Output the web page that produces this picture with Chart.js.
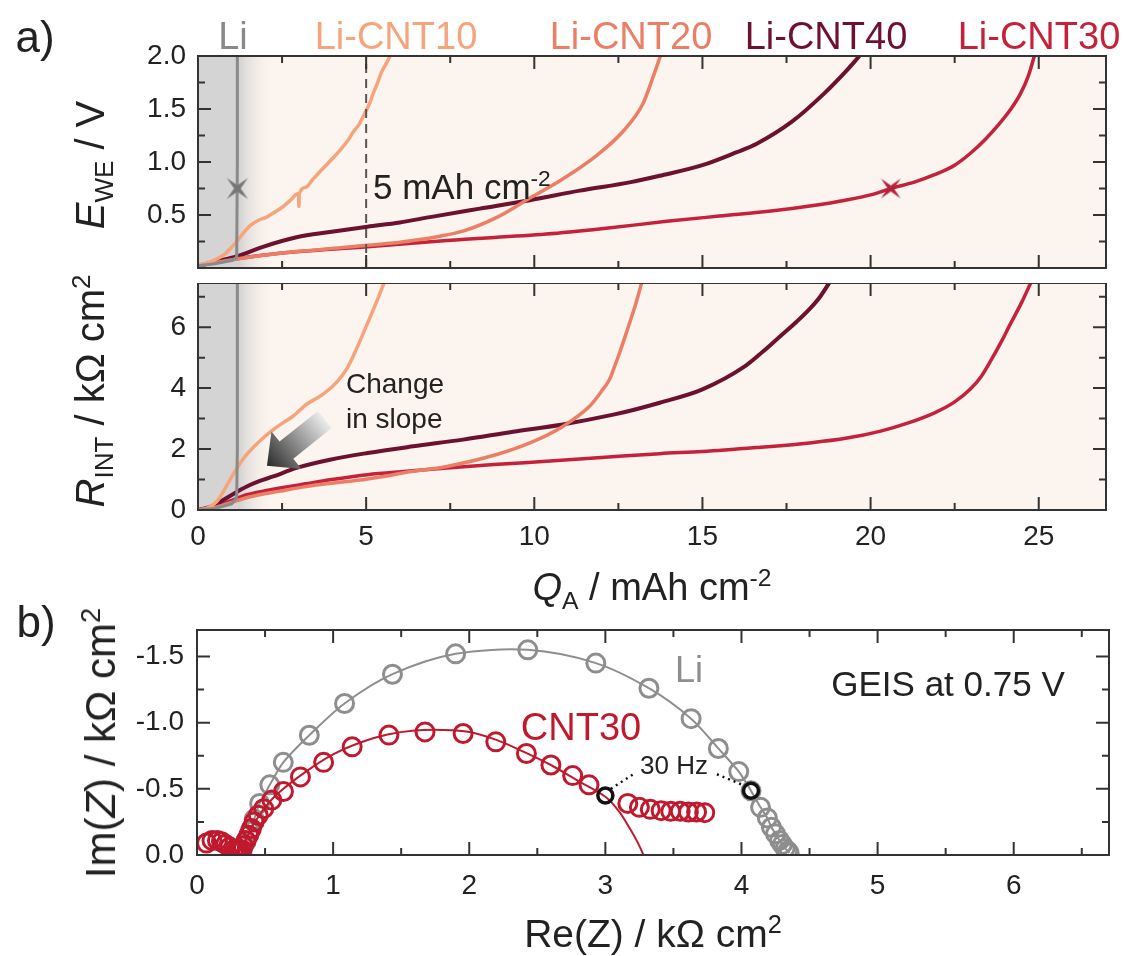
<!DOCTYPE html>
<html>
<head>
<meta charset="utf-8">
<script src="https://cdn.jsdelivr.net/npm/chart.js@4.4.1/dist/chart.umd.min.js"></script>
<style>
body { margin: 0; background: #fff; }
#page { position: relative; width: 1124px; height: 956px; overflow: hidden; font-family: 'Liberation Sans', Arial, sans-serif; color: #222; }
canvas { position: absolute; left: 0; }
.lab { position: absolute; white-space: nowrap; line-height: 1; transform: translate(-50%, -50%); }
.l { transform: translate(0, -50%); }
.rot { transform: translate(-50%, -50%) rotate(-90deg); }
sub, sup { font-size: 65%; line-height: 0; }
</style>
</head>
<body>
<div id="page">
  <canvas id="cE" width="1124" height="283" style="top:0"></canvas>
  <canvas id="cR" width="1124" height="300" style="top:283px"></canvas>
  <canvas id="cN" width="1124" height="373" style="top:583px"></canvas>

  <div class="lab" style="left:35px;top:37px;font-size:44px">a)</div>
  <div class="lab" style="left:233px;top:36px;font-size:38px;color:#8a8a8a">Li</div>
  <div class="lab" style="left:396px;top:36px;font-size:38px;color:#f6a47c">Li-CNT10</div>
  <div class="lab" style="left:631px;top:36px;font-size:38px;color:#ea7f66">Li-CNT20</div>
  <div class="lab" style="left:826px;top:36px;font-size:38px;color:#6c1130">Li-CNT40</div>
  <div class="lab" style="left:1039px;top:36px;font-size:38px;color:#c3223a">Li-CNT30</div>
  <div class="lab l" style="left:373px;top:186px;font-size:35px">5 mAh cm<sup>-2</sup></div>
  <div style="position:absolute;left:346px;top:366px;font-size:28px;line-height:35px;color:#222">Change<br>in slope</div>
  <div class="lab rot" style="left:90px;top:165px;font-size:40px"><i>E</i><sub>WE</sub> / V</div>
  <div class="lab rot" style="left:90px;top:391px;font-size:40px"><i>R</i><sub>INT</sub> / kΩ cm<sup>2</sup></div>
  <div class="lab" style="left:652px;top:587px;font-size:38px"><i>Q</i><sub>A</sub> / mAh cm<sup>-2</sup></div>

  <div class="lab" style="left:36px;top:622px;font-size:44px">b)</div>
  <div class="lab rot" style="left:101px;top:743px;font-size:42px">Im(<i>Z</i>) / kΩ cm<sup>2</sup></div>
  <div class="lab" style="left:653px;top:933px;font-size:39px">Re(Z) / kΩ cm<sup>2</sup></div>
  <div class="lab" style="left:689px;top:670px;font-size:36px;color:#8e8e8e">Li</div>
  <div class="lab" style="left:581px;top:727px;font-size:38px;color:#c0192e">CNT30</div>
  <div class="lab" style="left:948px;top:683px;font-size:35px">GEIS at 0.75 V</div>
  <div class="lab" style="left:674px;top:765px;font-size:26px">30 Hz</div>
</div>

<script>
// ---- a) potential vs areal capacity
const liQ = [0, 0.5, 1.0, 1.15, 1.17, 1.17];
const liE = [0.02, 0.04, 0.07, 0.1, 1.0, 2.0];
const cnt10Q = [0, 0.3, 0.55, 0.8, 0.95, 1.1, 1.25, 1.4, 1.55, 1.8, 2.04, 2.3, 2.53, 2.75, 2.97, 2.99, 3.0, 3.01, 3.2, 3.4, 3.63, 3.9, 4.22, 4.45, 4.61, 4.8, 4.96, 5.1, 5.2, 5.33, 5.46, 5.6, 5.71];
const cnt10E = [0.03, 0.05, 0.085, 0.13, 0.18, 0.23, 0.29, 0.35, 0.40, 0.45, 0.48, 0.53, 0.58, 0.64, 0.70, 0.70, 0.58, 0.70, 0.76, 0.83, 0.91, 1.0, 1.11, 1.2, 1.28, 1.36, 1.46, 1.55, 1.64, 1.74, 1.85, 1.93, 2.0];
const cnt20Q = [0, 0.5, 1.15, 2.44, 3.5, 5.04, 5.8, 6.4, 7.2, 7.9, 8.9, 9.87, 10.8, 11.85, 12.64, 13.23, 13.53, 13.75];
const cnt20E = [0.02, 0.05, 0.085, 0.14, 0.17, 0.215, 0.235, 0.26, 0.3, 0.35, 0.48, 0.66, 0.83, 1.06, 1.29, 1.55, 1.8, 2.0];
const cnt40Q = [0, 0.5, 1.15, 1.93, 2.93, 3.92, 5.04, 6.0, 6.9, 8.38, 9.87, 11.35, 12.87, 13.73, 15.0, 16.0, 16.6, 17.66, 18.6, 19.25, 19.67];
const cnt40E = [0.02, 0.06, 0.11, 0.20, 0.29, 0.34, 0.39, 0.43, 0.48, 0.56, 0.64, 0.73, 0.81, 0.87, 0.97, 1.09, 1.17, 1.38, 1.64, 1.85, 2.0];
const cnt30Q = [0, 0.5, 1.15, 2.44, 5.04, 7.4, 10.36, 12.0, 13.94, 15.5, 17.1, 18.3, 19.25, 20.0, 20.6, 21.3, 21.9, 22.5, 22.96, 23.4, 23.8, 24.15, 24.45, 24.7, 24.87];
const cnt30E = [0.02, 0.05, 0.088, 0.14, 0.20, 0.26, 0.32, 0.37, 0.44, 0.49, 0.54, 0.59, 0.64, 0.69, 0.75, 0.81, 0.88, 0.97, 1.08, 1.21, 1.35, 1.49, 1.64, 1.82, 2.0];
const starQ = [1.17, 20.6];
const starE = [0.75, 0.75];
const markQ = [5, 5];
const markE = [0, 2];

// ---- a) interphase resistance
const liR = [0, 0.05, 0.2, 0.4, 2.0, 7.45];
const cnt10R_Q = [0, 0.3, 0.55, 0.75, 0.95, 1.19, 1.4, 1.64, 1.95, 2.24, 2.55, 2.83, 3.23, 3.5, 3.72, 4.12, 4.42, 4.71, 5.01, 5.31, 5.53];
const cnt10R = [0, 0.08, 0.27, 0.6, 0.99, 1.43, 1.76, 2.05, 2.38, 2.64, 2.88, 3.08, 3.47, 3.65, 3.8, 4.19, 4.62, 5.28, 6.05, 6.83, 7.45];
const cnt20R_Q = [0, 0.5, 1.0, 1.5, 2.44, 3.5, 5.04, 6.4, 7.4, 8.88, 9.87, 10.86, 11.65, 12.0, 12.24, 12.4, 12.54, 12.84, 13.0, 13.19];
const cnt20R = [0, 0.08, 0.25, 0.42, 0.62, 0.82, 1.02, 1.27, 1.43, 1.82, 2.2, 2.75, 3.41, 3.9, 4.29, 4.75, 5.17, 6.16, 6.7, 7.45];
const cnt40R_Q = [0, 0.4, 0.75, 1.1, 1.45, 1.8, 2.24, 2.93, 3.92, 5.04, 6.4, 7.88, 9.37, 10.8, 12.35, 13.0, 13.73, 15.0, 16.28, 16.8, 17.33, 17.8, 18.19, 18.5, 18.77];
const cnt40R = [0, 0.12, 0.33, 0.56, 0.77, 0.94, 1.1, 1.38, 1.65, 1.87, 2.09, 2.31, 2.57, 2.8, 3.13, 3.3, 3.52, 3.96, 4.73, 5.2, 5.72, 6.18, 6.6, 7.0, 7.45];
const cnt30R_Q = [0, 0.4, 0.75, 1.1, 1.45, 2.0, 2.44, 3.2, 3.92, 5.04, 6.2, 7.4, 8.8, 10.36, 12.0, 13.73, 15.0, 16.6, 18.19, 19.3, 20.3, 21.1, 21.9, 22.5, 22.96, 23.3, 23.6, 23.9, 24.13, 24.5, 24.76];
const cnt30R = [0, 0.08, 0.2, 0.36, 0.5, 0.63, 0.72, 0.86, 0.99, 1.16, 1.27, 1.38, 1.49, 1.6, 1.72, 1.85, 1.92, 2.05, 2.2, 2.36, 2.59, 2.85, 3.19, 3.55, 3.96, 4.4, 4.95, 5.55, 6.05, 6.83, 7.45];
const arrowQ = [3.77, 2.05];   // tail, tip
const arrowR = [2.97, 1.45];

// ---- b) Nyquist plot
const liRe = [0.33, 0.36, 0.39, 0.42, 0.46, 0.535, 0.634, 0.825, 1.084, 1.436, 1.9, 2.43, 2.93, 3.32, 3.63, 3.83, 3.98, 4.07, 4.14, 4.19, 4.22, 4.25, 4.28, 4.3, 4.32, 4.34, 4.35];
const liIm = [-0.03, -0.1, -0.18, -0.27, -0.39, -0.53, -0.70, -0.905, -1.145, -1.366, -1.52, -1.55, -1.45, -1.26, -1.03, -0.805, -0.63, -0.485, -0.36, -0.28, -0.21, -0.16, -0.11, -0.08, -0.05, -0.03, -0.015];
const cntRe = [0.07, 0.11, 0.15, 0.18, 0.21, 0.24, 0.27, 0.29, 0.31, 0.33, 0.34, 0.36, 0.38, 0.40, 0.42, 0.45, 0.49, 0.55, 0.635, 0.76, 0.93, 1.14, 1.41, 1.675, 1.955, 2.195, 2.42, 2.6, 2.76, 2.88, 3.165, 3.25, 3.33, 3.41, 3.48, 3.55, 3.61, 3.67, 3.73];
const cntIm = [-0.09, -0.11, -0.11, -0.10, -0.08, -0.06, -0.04, -0.03, -0.03, -0.04, -0.07, -0.11, -0.15, -0.2, -0.25, -0.3, -0.35, -0.415, -0.48, -0.59, -0.70, -0.817, -0.906, -0.93, -0.918, -0.855, -0.767, -0.68, -0.60, -0.53, -0.39, -0.36, -0.345, -0.335, -0.33, -0.33, -0.325, -0.325, -0.32];
const fitRe = [0.3, 0.33, 0.37, 0.42, 0.5, 0.6, 0.8, 1.0, 1.2, 1.4, 1.6, 1.8, 2.0, 2.2, 2.4, 2.6, 2.8, 3.0, 3.1, 3.18, 3.24, 3.28];
const fitIm = [0, -0.06, -0.14, -0.24, -0.36, -0.47, -0.63, -0.76, -0.85, -0.91, -0.94, -0.945, -0.93, -0.87, -0.78, -0.68, -0.56, -0.44, -0.33, -0.2, -0.09, 0];
const hzRe = [3.0, 4.07];
const hzIm = [-0.45, -0.485];
const dotL_Re = [3.04, 3.22], dotL_Im = [-0.5, -0.62];
const dotR_Re = [3.82, 4.03], dotR_Im = [-0.61, -0.52];

const colLi = '#8a8a8a', col10 = '#f6a47c', col20 = '#ea7f66', col40 = '#6c1130', col30 = '#c3223a';
const colRed = '#c0192e', colGray = '#8e8e8e';

Chart.defaults.font.family = "'Liberation Sans', Arial, sans-serif";
Chart.defaults.font.size = 28;
Chart.defaults.color = '#222';

function pts(xs, ys) {
    return xs.map((x, i) => ({x: x, y: ys[i]}));
}

function curve(data, color, w, smooth) {
    return {
        data: data, borderColor: color, borderWidth: w, showLine: true,
        pointRadius: 0, fill: false,
        cubicInterpolationMode: smooth ? 'monotone' : 'default', tension: 0
    };
}

function starImg(color, size) {
    const c = document.createElement('canvas');
    c.width = c.height = size;
    const g = c.getContext('2d');
    g.translate(size / 2, size / 2);
    g.rotate(Math.PI / 4);
    g.beginPath();
    for (let i = 0; i < 8; i++) {
        const r = i % 2 === 0 ? size / 2 : size * 0.11;
        const a = i * Math.PI / 4 - Math.PI / 2;
        g.lineTo(r * Math.cos(a), r * Math.sin(a));
    }
    g.closePath();
    g.fillStyle = color;
    g.fill();
    return c;
}

function fixW(w) {
    return s => { s.width = w; s.paddingTop = 0; s.paddingBottom = 0; s.paddingLeft = 0; s.paddingRight = 0; };
}
function fixH(h) {
    return s => { s.height = h; s.paddingTop = 0; s.paddingBottom = 0; s.paddingLeft = 0; s.paddingRight = 0; };
}

// frame and inward ticks on all sides
const frame = {
    id: 'frame',
    afterDraw(chart, args, o) {
        const {ctx, chartArea: a, scales} = chart;
        ctx.save();
        ctx.strokeStyle = '#333';
        ctx.lineWidth = 2;
        const walk = (sc, step, major, fn) => {
            const lo = Math.min(sc.min, sc.max), hi = Math.max(sc.min, sc.max);
            for (let k = Math.ceil(lo / step - 1e-9); k * step <= hi + 1e-9; k++) {
                const v = k * step;
                const isMaj = Math.abs(v / major - Math.round(v / major)) < 1e-6;
                fn(sc.getPixelForValue(v), isMaj ? 13 : 7);
            }
        };
        ctx.beginPath();
        walk(scales.x, o.xMinor, o.xMajor, (p, L) => {
            ctx.moveTo(p, a.bottom); ctx.lineTo(p, a.bottom - L);
            ctx.moveTo(p, a.top); ctx.lineTo(p, a.top + L);
        });
        walk(scales.y, o.yMinor, o.yMajor, (p, L) => {
            ctx.moveTo(a.left, p); ctx.lineTo(a.left + L, p);
            ctx.moveTo(a.right, p); ctx.lineTo(a.right - L, p);
        });
        ctx.stroke();
        ctx.strokeRect(a.left, a.top, a.width, a.height);
        ctx.restore();
    }
};
Chart.register(frame);

// peach background with the grey Li region
const shade = {
    id: 'shade',
    beforeDatasetsDraw(chart) {
        const {ctx, chartArea: a, scales: {x}} = chart;
        const xl = x.getPixelForValue(liQ[liQ.length - 1]);
        const xf = x.getPixelForValue(2.3);
        ctx.save();
        ctx.fillStyle = '#fcf4ee';
        ctx.fillRect(a.left, a.top, a.width, a.height);
        ctx.fillStyle = '#d4d4d4';
        ctx.fillRect(a.left, a.top, xl - a.left, a.height);
        const g = ctx.createLinearGradient(xl, 0, xf, 0);
        g.addColorStop(0, 'rgba(208,208,208,1)');
        g.addColorStop(1, 'rgba(252,244,238,0)');
        ctx.fillStyle = g;
        ctx.fillRect(xl, a.top, xf - xl, a.height);
        ctx.restore();
    }
};

// big shaded arrow "change in slope"
const arrow = {
    id: 'arrow',
    afterDatasetsDraw(chart) {
        const {ctx, scales: {x, y}} = chart;
        const tx = x.getPixelForValue(arrowQ[0]), ty = y.getPixelForValue(arrowR[0]);
        const hx = x.getPixelForValue(arrowQ[1]), hy = y.getPixelForValue(arrowR[1]);
        const len = Math.hypot(hx - tx, hy - ty);
        const ux = (hx - tx) / len, uy = (hy - ty) / len, nx = -uy, ny = ux;
        const head = 25, hw = 24, sw = 11;
        const bx = hx - ux * head, by = hy - uy * head;
        ctx.save();
        const g = ctx.createLinearGradient(tx, ty, hx, hy);
        g.addColorStop(0, '#ececec');
        g.addColorStop(1, '#2a2a2a');
        ctx.fillStyle = g;
        ctx.beginPath();
        ctx.moveTo(tx + nx * sw, ty + ny * sw);
        ctx.lineTo(bx + nx * sw, by + ny * sw);
        ctx.lineTo(bx + nx * hw, by + ny * hw);
        ctx.lineTo(hx, hy);
        ctx.lineTo(bx - nx * hw, by - ny * hw);
        ctx.lineTo(bx - nx * sw, by - ny * sw);
        ctx.lineTo(tx - nx * sw, ty - ny * sw);
        ctx.closePath();
        ctx.fill();
        ctx.restore();
    }
};

function opts(pad, yW, xH, xs, ys, fr) {
    return {
        responsive: false, animation: false, devicePixelRatio: 1,
        layout: {padding: pad},
        plugins: {legend: {display: false}, tooltip: {enabled: false}, frame: fr},
        scales: {
            x: Object.assign({type: 'linear', grid: {display: false, drawTicks: false}, border: {display: false}, afterFit: fixH(xH)}, xs),
            y: Object.assign({type: 'linear', grid: {display: false, drawTicks: false}, border: {display: false}, afterFit: fixW(yW)}, ys)
        }
    };
}

// top panel: E_WE
new Chart(document.getElementById('cE'), {
    type: 'scatter',
    data: {datasets: [
        {data: pts(starQ, starE), pointStyle: [starImg('#767676', 30), starImg('#b5233a', 28)], pointRadius: 14, showLine: false},
        curve(pts(liQ, liE), colLi, 3, false),
        Object.assign(curve(pts(markQ, markE), '#555', 2, false), {borderDash: [9, 6]}),
        curve(pts(cnt10Q, cnt10E), col10, 3.5, true),
        curve(pts(cnt20Q, cnt20E), col20, 3.5, true),
        curve(pts(cnt40Q, cnt40E), col40, 4, true),
        curve(pts(cnt30Q, cnt30E), col30, 3.5, true)
    ]},
    options: opts({top: 56, right: 18, left: 0, bottom: 0}, 198, 0,
        {min: 0, max: 27, ticks: {display: false, stepSize: 5}},
        {min: 0, max: 2, ticks: {stepSize: 0.5, includeBounds: false, padding: 12,
            callback: v => v === 0 ? '' : v.toFixed(1)}},
        {xMajor: 5, xMinor: 2.5, yMajor: 0.5, yMinor: 0.25}),
    plugins: [shade]
});

// middle panel: R_INT
new Chart(document.getElementById('cR'), {
    type: 'scatter',
    data: {datasets: [
        curve(pts(liQ, liR), colLi, 3, false),
        curve(pts(cnt10R_Q, cnt10R), col10, 3.5, true),
        curve(pts(cnt20R_Q, cnt20R), col20, 3.5, true),
        curve(pts(cnt40R_Q, cnt40R), col40, 4, true),
        curve(pts(cnt30R_Q, cnt30R), col30, 3.5, true)
    ]},
    options: opts({top: 0, right: 18, left: 0, bottom: 0}, 198, 73,
        {min: 0, max: 27, ticks: {stepSize: 5, includeBounds: false, padding: 10}},
        {min: 0, max: 7.45, ticks: {stepSize: 2, includeBounds: false, padding: 12}},
        {xMajor: 5, xMinor: 2.5, yMajor: 2, yMinor: 1}),
    plugins: [shade, arrow]
});

// bottom panel: Nyquist
const circ = (data, color, r, bw, line) => ({
    data: data, showLine: line, borderColor: color, borderWidth: 2, tension: 0.3,
    pointRadius: r, pointBorderWidth: bw, pointBorderColor: color,
    pointBackgroundColor: 'rgba(0,0,0,0)', fill: false
});
const dots = data => ({data: data, showLine: true, borderColor: '#111', borderWidth: 2.5, borderDash: [2, 4], pointRadius: 0});

new Chart(document.getElementById('cN'), {
    type: 'scatter',
    data: {datasets: [
        circ(pts(hzRe, hzIm), '#111', 7.5, 3.5, false),
        dots(pts(dotL_Re, dotL_Im)),
        dots(pts(dotR_Re, dotR_Im)),
        Object.assign(curve(pts(fitRe, fitIm), colRed, 2, false), {tension: 0.35}),
        circ(pts(cntRe, cntIm), colRed, 9, 3, false),
        circ(pts(liRe, liIm), colGray, 9, 3, true)
    ]},
    options: opts({top: 47, right: 15, left: 0, bottom: 0}, 197, 101,
        {min: 0, max: 6.7, ticks: {stepSize: 1, includeBounds: false, padding: 14}},
        {min: -1.7, max: 0, reverse: true, ticks: {stepSize: 0.5, includeBounds: false, padding: 13,
            callback: v => v.toFixed(1)}},
        {xMajor: 1, xMinor: 0.5, yMajor: 0.5, yMinor: 0.25})
});
</script>
</body>
</html>
